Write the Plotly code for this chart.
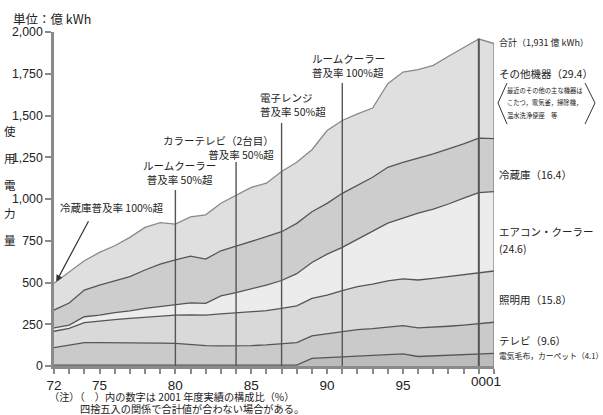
import plotly.graph_objects as go

years = list(range(1972, 2002))

# layer values (億 kWh), bottom to top
blanket = [5]*17 + [46, 50, 56, 60, 64, 68, 73, 57, 60, 63, 66, 70, 76]
tv = [105, 120, 135, 135, 135, 135, 133, 132, 130, 123, 117, 115, 115, 117, 121,
      127, 135, 134, 142, 149, 158, 160, 164, 169, 171, 172, 175, 179, 182, 186]
lighting = [98, 100, 120, 130, 138, 145, 154, 161, 170, 178, 183, 192, 199, 203, 205,
            213, 220, 225, 233, 246, 257, 266, 278, 280, 287, 293, 297, 300, 303, 307]
aircon = [20, 20, 35, 35, 42, 45, 53, 59, 64, 72, 70, 108, 121, 137, 154,
          167, 193, 215, 245, 259, 285, 320, 345, 363, 400, 415, 435, 460, 483, 475]
fridge = [107, 132, 160, 180, 190, 205, 230, 253, 266, 280, 265, 270, 278, 282, 289,
          292, 301, 304, 304, 324, 320, 320, 335, 335, 330, 330, 330, 325, 327, 317]
others = [160, 183, 175, 195, 210, 235, 255, 248, 215, 235, 265, 285, 302, 326, 321,
          361, 366, 371, 436, 436, 430, 415, 500, 540, 530, 530, 555, 575, 593, 570]

series_names = ["電気毛布，カーペット", "テレビ", "照明用", "エアコン・クーラー", "冷蔵庫", "その他機器"]
series_vals = [blanket, tv, lighting, aircon, fridge, others]
fills = ["#bcbcbc", "#cacaca", "#d9d9d9", "#ececec", "#cdcdcd", "#dfdfdf"]
line_cols = ["#555555", "#555555", "#555555", "#555555", "#555555", "#8a8a8a"]

x_tickvals = [1972, 1975, 1980, 1985, 1990, 1995]
x_ticktext = ["72", "75", "80", "85", "90", "95"]
y_tickvals = [0, 250, 500, 750, 1000, 1250, 1500, 1750, 2000]

events = [
    # year, line top, label, label x, label y, anchor
    (1980, 1054, "ルームクーラー<br>普及率 50%超", 1980.3, 1156, "center"),
    (1984, 1222, "カラーテレビ（2台目）<br>普及率 50%超", 1986.6, 1311, "right"),
    (1987, 1455, "電子レンジ<br>普及率 50%超", 1985.45, 1566, "left"),
    (1991, 1695, "ルームクーラー<br>普及率 100%超", 1988.85, 1799, "left"),
    (2000, 1960, "エアコン<br>普及率 100%超", 1997.1, 2069, "left"),
]

right_labels = [
    ("合計（1,931 億 kWh）", 43, 9),
    ("その他機器（29.4）", 73, 10.5),
    ("冷蔵庫（16.4）", 174, 10.5),
    ("エアコン・クーラー", 231, 10.5),
    ("(24.6)", 248, 10.5),
    ("照明用（15.8）", 299, 10.5),
    ("テレビ（9.6）", 340, 10.5),
    ("電気毛布，カーペット（4.1）", 355, 7.8),
]
box_lines = ["最近のその他の主な機器は", "こたつ，電気釜，掃除機，", "温水洗浄便座　等"]

FONT = "Liberation Sans, Noto Sans CJK JP, sans-serif"
JFONT = "Noto Sans CJK JP, sans-serif"

W, H = 603, 415
L, R, T, B = 54, 494, 32, 366   # plot area in pixels
def px(xp):
    return (xp - L) / (R - L)
def py(yp):
    return (B - yp) / (B - T)

fig = go.Figure()
for name, vals, fc, lc in zip(series_names, series_vals, fills, line_cols):
    fig.add_trace(go.Scatter(x=years, y=vals, name=name, stackgroup="one",
                             mode="lines", line=dict(color=lc, width=1.3),
                             fillcolor=fc, showlegend=False))

shapes = []
for yr, top, *_ in events:
    shapes.append(dict(type="line", xref="x", yref="y", x0=yr, x1=yr, y0=0, y1=top,
                       line=dict(color="#555555", width=2 if yr == 2000 else 1.4)))
total_2001 = sum(v[-1] for v in series_vals)
shapes.append(dict(type="line", xref="x", yref="y", x0=2001, x1=2001, y0=0, y1=total_2001,
                   line=dict(color="#666666", width=1)))
# bracket around note box
shapes.append(dict(type="path", xref="paper", yref="paper",
                   path=f"M {px(507)},{py(83)} L {px(498)},{py(103)} L {px(507)},{py(124)}",
                   line=dict(color="#333333", width=1)))
shapes.append(dict(type="path", xref="paper", yref="paper",
                   path=f"M {px(585)},{py(83)} L {px(595)},{py(103)} L {px(585)},{py(124)}",
                   line=dict(color="#333333", width=1)))

ann = []
for yr, top, label, lx, ly, anchor in events:
    ann.append(dict(x=lx, y=ly, xref="x", yref="y", text=label, showarrow=False,
                    xanchor=anchor, yanchor="middle", align=anchor,
                    font=dict(family=JFONT, size=10.5, color="#222222")))
# fridge 100% annotation with arrow
ann.append(dict(x=1972.15, y=505, xref="x", yref="y", text="", showarrow=True,
                ax=33, ay=-62, arrowhead=2, arrowsize=1.1, arrowwidth=1.2,
                arrowcolor="#333333"))
ann.append(dict(x=px(58), y=py(207), xref="paper", yref="paper", text="冷蔵庫普及率 100%超",
                showarrow=False, xanchor="left", yanchor="middle",
                font=dict(family=JFONT, size=10.5, color="#222222")))
for text, yp, fs in right_labels:
    ann.append(dict(x=px(497), y=py(yp), xref="paper", yref="paper", text=text,
                    showarrow=False, xanchor="left", yanchor="middle",
                    font=dict(family=JFONT, size=fs, color="#222222")))
for text, yp in zip(box_lines, [90, 102.5, 115]):
    ann.append(dict(x=px(505), y=py(yp), xref="paper", yref="paper", text=text,
                    showarrow=False, xanchor="left", yanchor="middle",
                    font=dict(family=JFONT, size=6.3, color="#222222")))
# axis titles
ann.append(dict(x=px(11), y=py(18), xref="paper", yref="paper", text="単位：億 kWh",
                showarrow=False, xanchor="left", yanchor="middle",
                font=dict(family=JFONT, size=12.5, color="#222222")))
for ch, yp in zip("使用電力量", [131, 158, 185, 213, 240]):
    ann.append(dict(x=px(10), y=py(yp), xref="paper", yref="paper", text=ch,
                    showarrow=False, xanchor="center", yanchor="middle",
                    font=dict(family=JFONT, size=11.5, color="#222222")))
ann.append(dict(x=2000.5, y=py(381), xref="x", yref="paper", text="0001",
                showarrow=False, xanchor="center", yanchor="middle",
                font=dict(family=FONT, size=13.5, color="#222222")))
ann.append(dict(x=px(47), y=py(397), xref="paper", yref="paper",
                text="（注）（　）内の数字は 2001 年度実績の構成比（%）",
                showarrow=False, xanchor="left", yanchor="middle",
                font=dict(family=JFONT, size=10.2, color="#222222")))
ann.append(dict(x=px(78), y=py(408.5), xref="paper", yref="paper",
                text="四捨五入の関係で合計値が合わない場合がある。",
                showarrow=False, xanchor="left", yanchor="middle",
                font=dict(family=JFONT, size=10.2, color="#222222")))

fig.update_layout(
    width=W, height=H,
    margin=dict(l=L, r=W - R, t=T, b=H - B, pad=0, autoexpand=False),
    paper_bgcolor="white", plot_bgcolor="white",
    shapes=shapes, annotations=ann,
    xaxis=dict(range=[1972, 2001], tickvals=x_tickvals, ticktext=x_ticktext,
               automargin=False,
               showgrid=False, zeroline=False, showline=True, linecolor="#8a8a8a",
               linewidth=2.5, ticks="outside", ticklen=5, tickcolor="#8a8a8a",
               tickwidth=1.5,
               tickfont=dict(family=FONT, size=13.5, color="#222222"),
               minor=dict(tickmode="linear", tick0=1972, dtick=1, ticks="outside",
                          ticklen=5, tickcolor="#8a8a8a", tickwidth=1.5, showgrid=False)),
    yaxis=dict(range=[0, 2000], tickvals=y_tickvals, tickformat=",",
               automargin=False,
               showgrid=False, zeroline=False, showline=True, linecolor="#8a8a8a",
               linewidth=2.5, ticks="outside", ticklen=6, tickcolor="#8a8a8a",
               tickwidth=1.5,
               tickfont=dict(family=FONT, size=12.3, color="#222222")),
)

fig.write_html("out.html", config={"displayModeBar": False},
               post_script="document.body.style.margin='0';document.body.style.overflow='hidden';")
